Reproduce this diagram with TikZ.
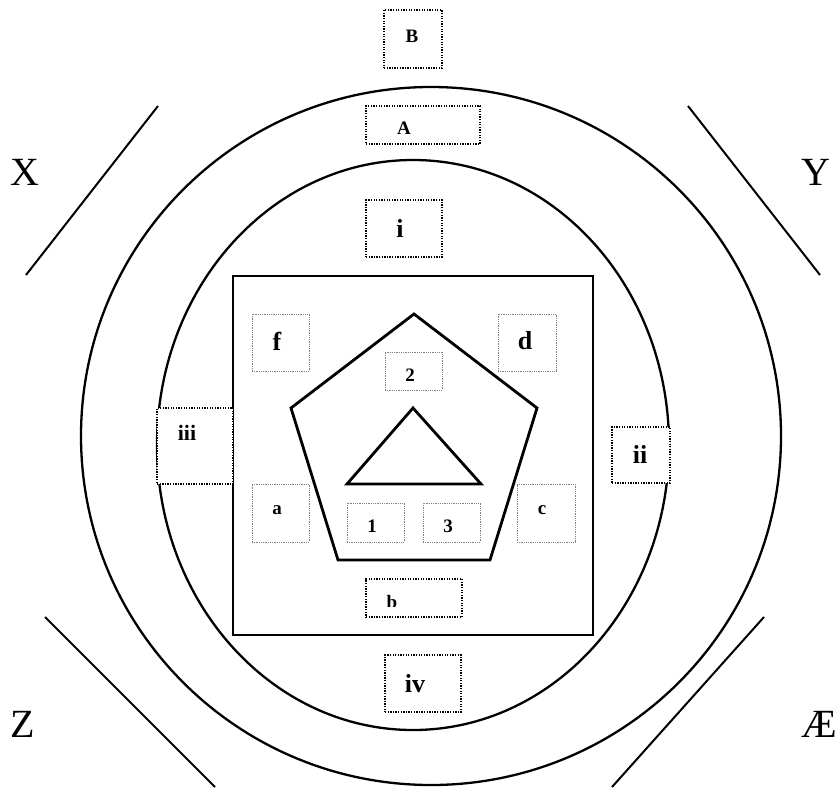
\documentclass[tikz,border=0pt]{standalone}
\usepackage{fontspec}
\setmainfont{Liberation Serif}
\begin{document}
\begin{tikzpicture}[x=1pt,y=-1pt,
  ring/.style={line width=2.3pt},
  frame/.style={line width=2.8pt, line join=miter},
  diag/.style={line width=2pt},
  blackbox/.style={draw=black, fill=white, line width=1.3pt, dash pattern=on 1.3pt off 1.3pt, inner sep=0pt, outer sep=0pt, anchor=north west},
  graybox/.style={draw=gray, fill=white, line width=0.7pt, dash pattern=on 1pt off 0.8pt, inner sep=0pt, outer sep=0pt, anchor=north west},
  lbl/.style={anchor=base, inner sep=0pt, outer sep=0pt},
  bigb/.style={lbl, font=\fontsize{26}{26}\selectfont\bfseries},
  midb/.style={lbl, font=\fontsize{22}{22}\selectfont\bfseries},
  smallb/.style={lbl, font=\fontsize{19}{19}\selectfont\bfseries},
  corner/.style={lbl, font=\fontsize{40}{40}\selectfont}
]
\useasboundingbox (0,0) rectangle (837,787);

% rings
\draw[ring] (431,436) ellipse [x radius=350pt, y radius=349pt];
\draw[ring] (413,445) ellipse [x radius=256pt, y radius=285pt];

% square
\draw[frame] (233,276) rectangle (593,635);

% pentagon
\draw[frame] (414,314) -- (537,408) -- (490,560) -- (338,560) -- (291,408) -- cycle;

% triangle
\draw[frame] (413,408) -- (481,484) -- (347,484) -- cycle;

% diagonal lines
\coordinate (x1) at (158,106); \coordinate (x2) at (26,275);
\coordinate (y1) at (688,106); \coordinate (y2) at (820,275);
\coordinate (z1) at (45,617);  \coordinate (z2) at (215,787);
\coordinate (e1) at (764,617); \coordinate (e2) at (612,787);
\draw[diag] (x1) -- (x2);
\draw[diag] (y1) -- (y2);
\draw[diag] (z1) -- (z2);
\draw[diag] (e1) -- (e2);

% black dotted boxes
\node[blackbox, minimum width=58pt, minimum height=58pt] (boxB) at (384,10) {};
\node[blackbox, minimum width=114pt, minimum height=38pt] (boxA) at (366,106) {};
\node[blackbox, minimum width=76pt, minimum height=57pt] (boxi) at (366,200) {};
\node[blackbox, minimum width=76pt, minimum height=76pt] (boxiii) at (157,408) {};
\node[blackbox, minimum width=58pt, minimum height=56pt] (boxii) at (612,427) {};
\node[blackbox, minimum width=96pt, minimum height=38pt] (boxb) at (366,579) {};
\node[blackbox, minimum width=76pt, minimum height=57pt] (boxiv) at (385,655) {};

% gray dotted boxes
\node[graybox, minimum width=57pt, minimum height=57pt] (boxf) at (252,314) {};
\node[graybox, minimum width=58pt, minimum height=57pt] (boxd) at (498,314) {};
\node[graybox, minimum width=57pt, minimum height=58pt] (boxa) at (252,484) {};
\node[graybox, minimum width=58pt, minimum height=58pt] (boxc) at (517,484) {};
\node[graybox, minimum width=57pt, minimum height=38pt] (box2) at (385,352) {};
\node[graybox, minimum width=57pt, minimum height=39pt] (box1) at (347,503) {};
\node[graybox, minimum width=57pt, minimum height=39pt] (box3) at (423,503) {};

% labels
\node[smallb] (tB) at (412,42) {B};
\node[smallb] (tA) at (404,134) {A};
\node[bigb] (ti) at (400,237) {i};
\node[midb] (tiii) at (187,440) {iii};
\node[bigb] (tii) at (640,463) {ii};
\node[bigb] (tiv) at (415,692) {iv};
\begin{scope}
  \clip (366,579) rectangle (462,606);
  \node[smallb] (tb) at (392,608) {b};
\end{scope}
\node[bigb] (tf) at (277,350) {f};
\node[bigb] (td) at (525,349) {d};
\node[smallb] (ta) at (277,514) {a};
\node[smallb] (tc) at (542,514) {c};
\node[smallb] (t2) at (410,381) {2};
\node[smallb] (t1) at (372,532) {1};
\node[smallb] (t3) at (448,532) {3};

\node[corner] (tX) at (25,185) {X};
\node[corner] (tY) at (816,185) {Y};
\node[corner] (tZ) at (23,737) {Z};
\node[corner] (tAE) at (819,737) {Æ};
\end{tikzpicture}
\end{document}
